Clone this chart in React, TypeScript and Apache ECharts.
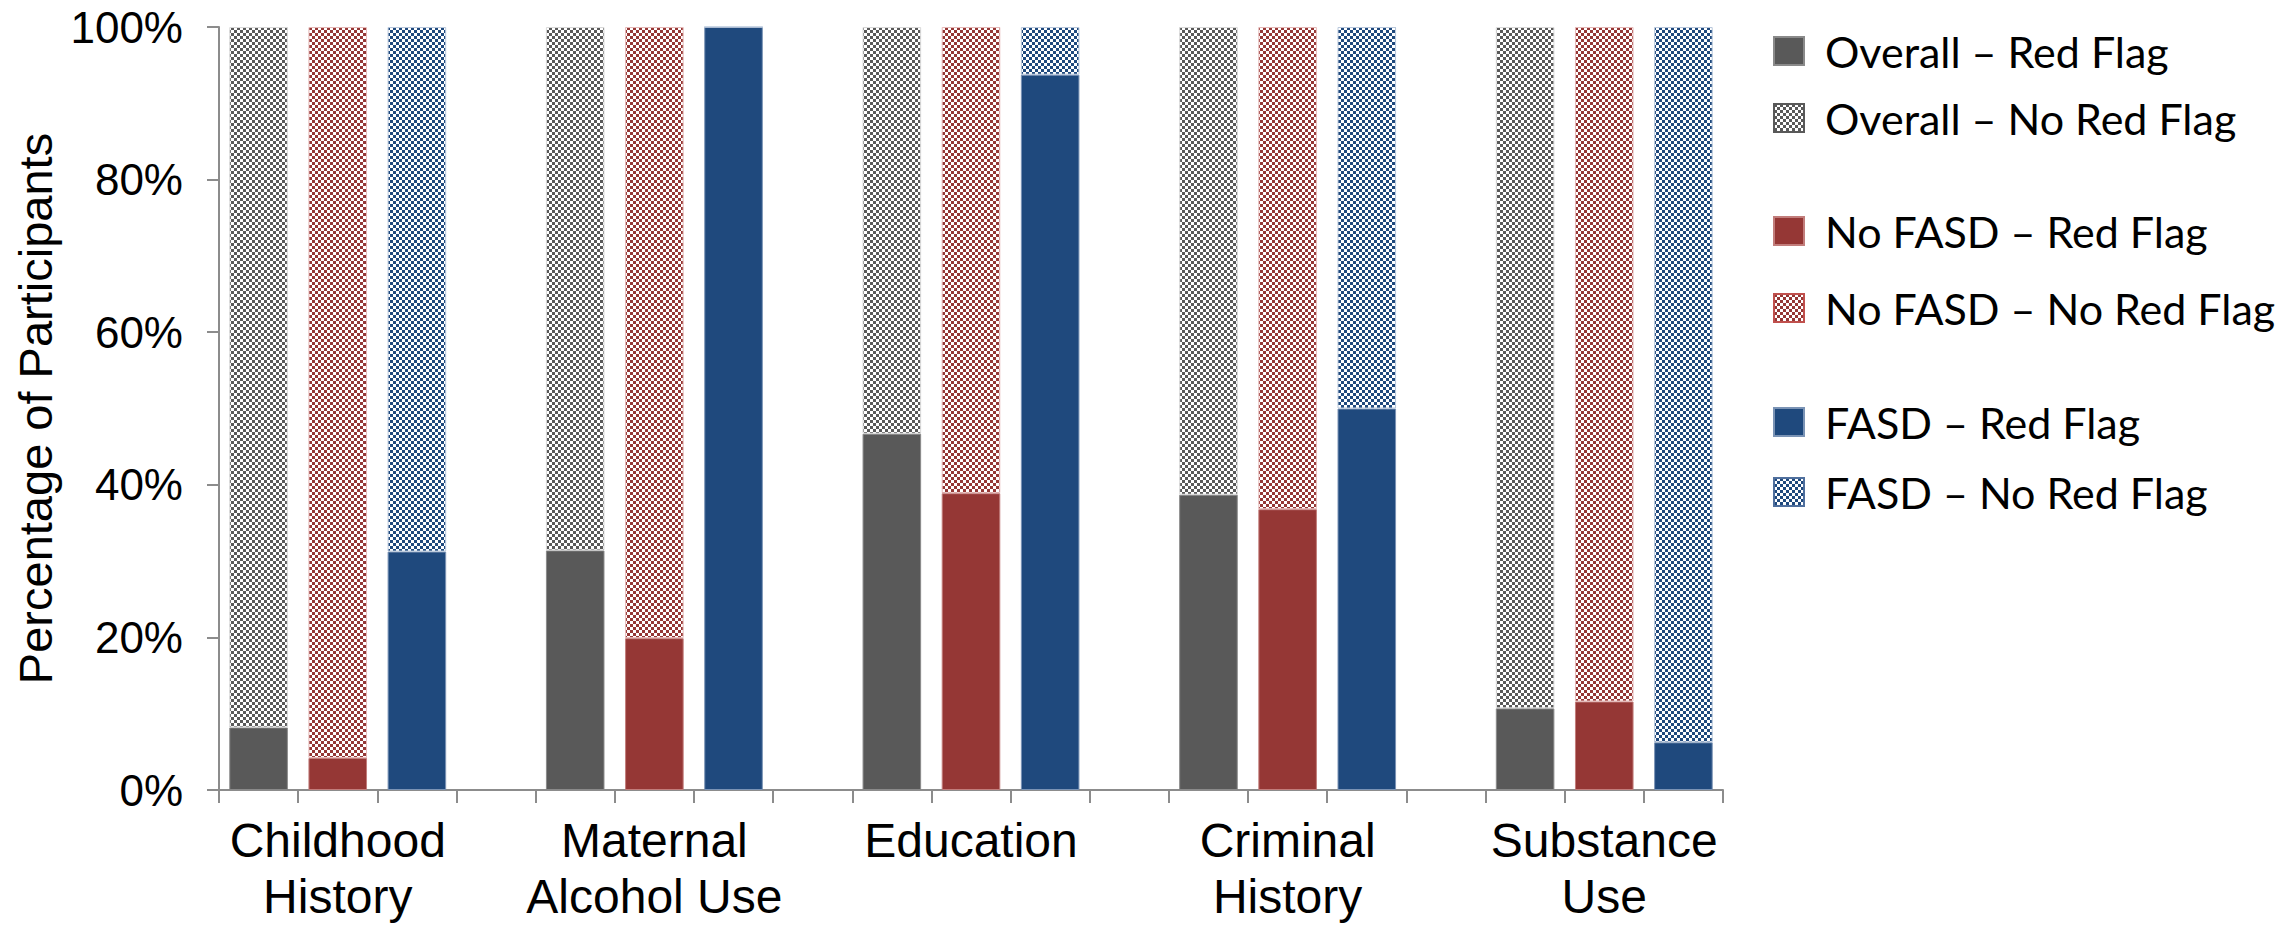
import React, { useEffect, useRef } from "react";
import * as echarts from "echarts";

// Risk-factor groups shown along the x axis
const groups = [
  "Childhood\nHistory",
  "Maternal\nAlcohol Use",
  "Education",
  "Criminal\nHistory",
  "Substance\nUse",
];

// Percentage of participants with a red flag, per group
const overallRedFlag = [8.2, 31.4, 46.7, 38.7, 10.7];
const noFasdRedFlag = [4.2, 19.9, 38.9, 36.8, 11.6];
const fasdRedFlag = [31.25, 100, 93.75, 50, 6.25];

// Y axis ticks
const yMin = 0;
const yMax = 100;
const yStep = 20;

const seriesNames = [
  "Overall – Red Flag",
  "Overall – No Red Flag",
  "No FASD – Red Flag",
  "No FASD – No Red Flag",
  "FASD – Red Flag",
  "FASD – No Red Flag",
];

const GRAY = "#595959";
const RED = "#953735";
const BLUE = "#1F497D";

function checker(color: string) {
  const c = document.createElement("canvas");
  c.width = 6;
  c.height = 6;
  const ctx = c.getContext("2d")!;
  ctx.fillStyle = "#ffffff";
  ctx.fillRect(0, 0, 6, 6);
  ctx.fillStyle = color;
  ctx.fillRect(0, 0, 3, 3);
  ctx.fillRect(3, 3, 3, 3);
  return { image: c.toDataURL(), repeat: "repeat", imageWidth: 6, imageHeight: 6 };
}

// Each group takes three bar slots plus one empty spacer slot (none after the last)
function slotCategories() {
  const cats: string[] = [];
  groups.forEach((_, g) => {
    cats.push(`g${g}-overall`, `g${g}-nofasd`, `g${g}-fasd`);
    if (g < groups.length - 1) cats.push(`g${g}-gap`);
  });
  return cats;
}

function slotValues(values: number[], offset: number, complement: boolean) {
  const out: (number | string)[] = [];
  groups.forEach((_, g) => {
    for (let k = 0; k < 3; k++) {
      out.push(k === offset ? (complement ? 100 - values[g] : values[g]) : "-");
    }
    if (g < groups.length - 1) out.push("-");
  });
  return out;
}

export default function App() {
  const ref = useRef<HTMLDivElement>(null);

  useEffect(() => {
    if (!ref.current) return;
    const chart = echarts.init(ref.current, undefined, { renderer: "svg" });
    const categories = slotCategories();

    const defs = [
      { name: seriesNames[0], vals: overallRedFlag, off: 0, comp: false, color: GRAY, border: "#8a8a8a" },
      { name: seriesNames[1], vals: overallRedFlag, off: 0, comp: true, color: checker(GRAY), border: "#d9d9d9" },
      { name: seriesNames[2], vals: noFasdRedFlag, off: 1, comp: false, color: RED, border: "#c27d7b" },
      { name: seriesNames[3], vals: noFasdRedFlag, off: 1, comp: true, color: checker(RED), border: "#e6b9b8" },
      { name: seriesNames[4], vals: fasdRedFlag, off: 2, comp: false, color: BLUE, border: "#7a93b5" },
      { name: seriesNames[5], vals: fasdRedFlag, off: 2, comp: true, color: checker(BLUE), border: "#b9c8dc" },
    ];

    const series = defs.map((d) => ({
      type: "bar",
      name: d.name,
      stack: "total",
      barWidth: "74%",
      data: slotValues(d.vals, d.off, d.comp),
      itemStyle: { color: d.color as any, borderColor: d.border, borderWidth: 1 },
    }));

    const legendText = {
      fontFamily: "Lato",
      fontSize: 43,
      color: "#000000",
      lineHeight: 50,
      padding: [0, 0, 0, 16],
    };
    const legendBase = {
      orient: "vertical",
      left: 1768,
      icon: "rect",
      itemWidth: 30,
      itemHeight: 28,
      selectedMode: false,
      textStyle: legendText,
    };
    const legendItem = (name: string, edge?: string) =>
      edge ? { name, itemStyle: { borderColor: edge, borderWidth: 2 } } : { name };

    chart.setOption({
      animation: false,
      backgroundColor: "#ffffff",
      grid: { left: 219, right: 569, top: 27, bottom: 136, containLabel: false },
      legend: [
        { ...legendBase, top: 21, itemGap: 17, data: [legendItem(seriesNames[0]), legendItem(seriesNames[1], GRAY)] },
        { ...legendBase, top: 201, itemGap: 27, data: [legendItem(seriesNames[2]), legendItem(seriesNames[3], "#c0504d")] },
        { ...legendBase, top: 392, itemGap: 20, data: [legendItem(seriesNames[4]), legendItem(seriesNames[5], "#4f6f9d")] },
      ],
      xAxis: {
        type: "category",
        data: categories,
        axisLine: { lineStyle: { color: "#8c8c8c", width: 2 } },
        axisTick: { show: true, interval: 0, length: 13, lineStyle: { color: "#8c8c8c", width: 2 } },
        axisLabel: {
          interval: 0,
          margin: 22,
          fontFamily: "Liberation Sans",
          fontSize: 48,
          lineHeight: 56,
          color: "#000000",
          formatter: (_v: string, i: number) => (i % 4 === 1 ? groups[(i - 1) / 4] : ""),
        },
        splitLine: { show: false },
      },
      yAxis: {
        type: "value",
        min: yMin,
        max: yMax,
        interval: yStep,
        name: "Percentage of Participants",
        nameLocation: "middle",
        nameRotate: 90,
        nameGap: 160,
        nameTextStyle: {
          fontFamily: "Liberation Sans",
          fontSize: 47,
          color: "#000000",
        },
        axisLine: { show: true, lineStyle: { color: "#8c8c8c", width: 2 } },
        axisTick: { show: true, length: 12, lineStyle: { color: "#8c8c8c", width: 2 } },
        axisLabel: {
          margin: 36,
          fontFamily: "Liberation Sans",
          fontSize: 44,
          color: "#000000",
          formatter: "{value}%",
        },
        splitLine: { show: false },
      },
      series,
    } as any);

    return () => chart.dispose();
  }, []);

  return (
    <div
      ref={ref}
      style={{ position: "fixed", left: 0, top: 0, width: 2292, height: 926, background: "#ffffff" }}
    />
  );
}
